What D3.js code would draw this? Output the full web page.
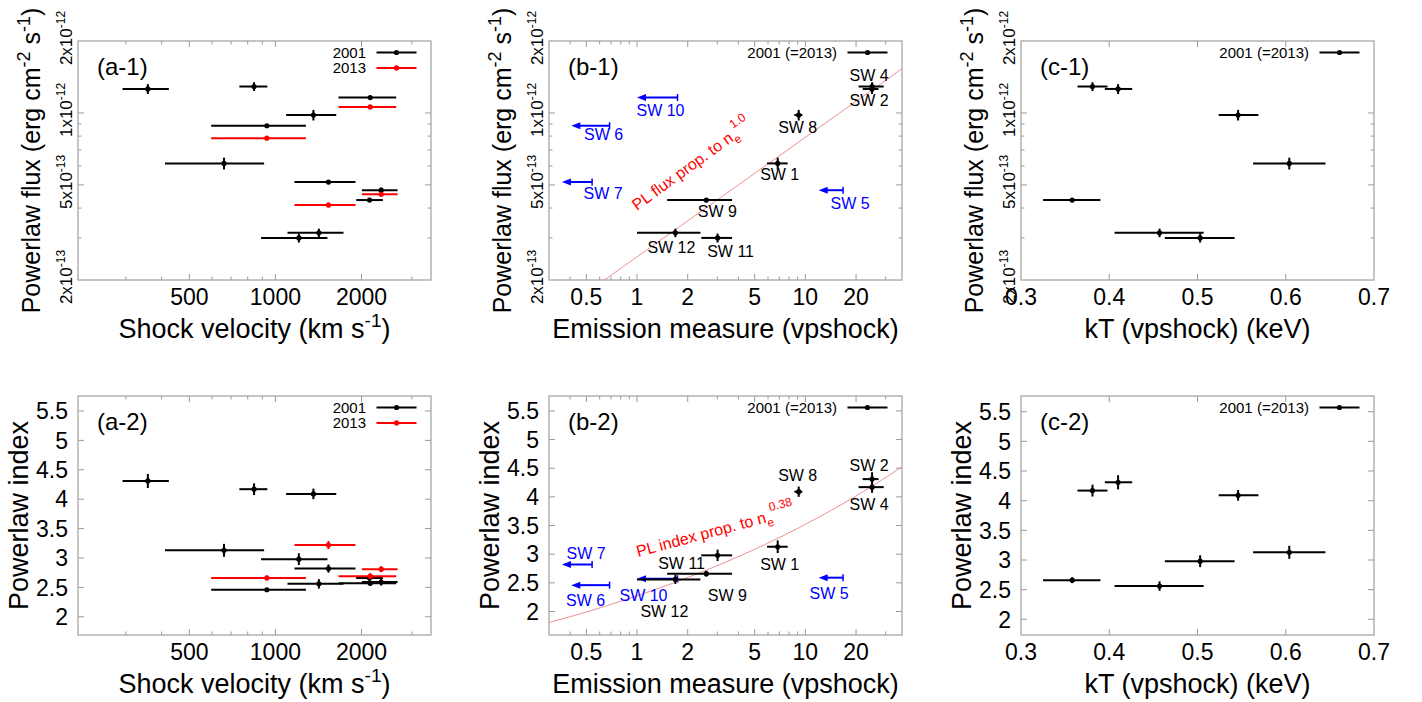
<!DOCTYPE html>
<html><head><meta charset="utf-8">
<script src="https://cdn.jsdelivr.net/npm/d3@7"></script>
<style>
body{margin:0;background:#fff}
svg{display:block}
text{font-family:"Liberation Sans",Arial,Helvetica,sans-serif;fill:#000}
</style>
</head><body>
<svg id="chart" width="1422" height="702"></svg>
<script>
// ---------------- data ----------------
const regions = ["SW 1","SW 2","SW 4","SW 5","SW 6","SW 7","SW 8","SW 9","SW 10","SW 11","SW 12"];
const shockVelocity     = [661, 358, 842, 2344, 933, 1533, 1358, 2133, 2145, 1208, 1419];
const shockVelocityLow  = [411, 292, 748, 2006, 596, 1166, 1090, 1916, 1662, 891, 1102];
const shockVelocityHigh = [913, 424, 937, 2674, 1278, 1905, 1632, 2376, 2645, 1520, 1730];
const flux2001    = [6.15e-13, 1.26e-12, 1.29e-12, 4.75e-13, 8.84e-13, 5.14e-13, 9.8e-13, 4.32e-13, 1.16e-12, 3.0e-13, 3.15e-13];
const flux2001Err = [0.35e-13, 0.6e-13, 0.55e-13, 0.12e-13, 0.1e-13, 0.1e-13, 0.5e-13, 0.08e-13, 0.15e-13, 0.13e-13, 0.13e-13];
const flux2013    = [null, null, null, 4.57e-13, 7.84e-13, 4.12e-13, null, null, 1.06e-12, null, null];
const flux2013Err = [null, null, null, 0.1e-13, 0.1e-13, 0.1e-13, null, null, 0.12e-13, null, null];
const index2001    = [3.13, 4.31, 4.17, 2.59, 2.46, 2.82, 4.09, 2.66, 2.57, 2.98, 2.56];
const index2001Err = [0.11, 0.12, 0.10, 0.06, 0.03, 0.07, 0.09, 0.05, 0.04, 0.10, 0.08];
const index2013    = [null, null, null, 2.81, 2.66, 3.22, null, null, 2.69, null, null];
const index2013Err = [null, null, null, 0.05, 0.04, 0.07, null, null, 0.05, null, null];
const emissionMeasure     = [6.85, 24.9, 24.9, 16.75, 0.687, 0.541, 9.13, 2.58, 1.74, 3.01, 1.69];
const emissionMeasureLow  = [5.92, 21.9, 20.7, null, null, null, 8.6, 1.51, null, 2.41, 1.0];
const emissionMeasureHigh = [7.85, 27.2, 29.2, null, null, null, 9.6, 3.67, null, 3.67, 2.38];
const emissionUpperLimit  = [false, false, false, true, true, true, false, false, true, false, false];
const emissionArrowTip    = [null, null, null, 12.0, 0.407, 0.358, null, null, 1.0, null, null];
const kT     = [0.604, 0.410, 0.381, null, null, null, 0.546, 0.358, null, 0.503, 0.457];
const kTLow  = [0.563, 0.395, 0.364, null, null, null, 0.524, 0.325, null, 0.463, 0.406];
const kTHigh = [0.645, 0.426, 0.398, null, null, null, 0.569, 0.390, null, 0.542, 0.507];
// fits: flux ∝ n_e^1.0 (EM^0.5), index ∝ n_e^0.38 (EM^0.19)
const fluxFitNorm = 2.5e-13, fluxFitExp = 0.5;
const indexFitNorm = 2.273, indexFitExp = 0.19;
// ticks
const velocityTicks = [500, 1000, 2000];
const velocityMinorTicks = [300, 400, 600, 700, 800, 900, 3000];
const emTicks = [0.5, 1, 2, 5, 10, 20];
const emMinorTicks = [0.4, 0.6, 0.7, 0.8, 0.9, 3, 4, 6, 7, 8, 9, 30];
const kTTicks = [0.3, 0.4, 0.5, 0.6, 0.7];
const fluxTicks = [2e-13, 5e-13, 1e-12, 2e-12];
const fluxTickMantissa = ["2x10", "5x10", "1x10", "2x10"];
const fluxTickExponent = ["-13", "-13", "-12", "-12"];
const fluxMinorTicks = [3e-13, 4e-13, 6e-13, 7e-13, 8e-13, 9e-13];
const indexTicks = [2, 2.5, 3, 3.5, 4, 4.5, 5, 5.5];
const legendLabels2 = ["2001", "2013"];
const legendLabel1 = "2001 (=2013)";

// ---------------- layout / style ----------------
const FRAME = "#a6a6a6", TICK = "#9a9a9a", RED = "#ff0000", BLUE = "#0000ff", FIT = "#f08a8a";
const boxes = {
  a1: {l: 78, t: 41, r: 431, b: 280}, b1: {l: 549, t: 41, r: 902, b: 280}, c1: {l: 1021, t: 41, r: 1374, b: 280},
  a2: {l: 78, t: 396, r: 431, b: 635}, b2: {l: 549, t: 396, r: 902, b: 635}, c2: {l: 1021, t: 396, r: 1374, b: 635}
};
const indexDomains = {a2: [1.69, 5.755], b2: [1.59, 5.76], c2: [1.736, 5.764]};
const labelPlacement = {
  b1: {"SW 1":[2,17],"SW 2":[-3,17],"SW 4":[-3,-6],"SW 8":[-1,18],"SW 9":[11,17],"SW 11":[13,19],"SW 12":[-4,20],
       "SW 10":[-17,18],"SW 6":[-6,14],"SW 7":[11,17],"SW 5":[7,19]},
  b2: {"SW 1":[2,23],"SW 2":[-3,-8],"SW 4":[-3,23],"SW 8":[-1,-11],"SW 9":[21,27],"SW 11":[-36,14],"SW 12":[-11,38],
       "SW 7":[-6,-6],"SW 6":[-24,21],"SW 10":[-34,22],"SW 5":[-14,21]}
};

const svg = d3.select("#chart");
const defs = svg.append("defs");
Object.entries(boxes).forEach(([k, bx]) => {
  defs.append("clipPath").attr("id", "clip-" + k).append("rect")
    .attr("x", bx.l).attr("y", bx.t).attr("width", bx.r - bx.l).attr("height", bx.b - bx.t);
});

function makeX(kind, bx) {
  if (kind === "a") return d3.scaleLog().domain([204, 3500]).range([bx.l, bx.r]);
  if (kind === "b") return d3.scaleLog().domain([0.3, 37.5]).range([bx.l, bx.r]);
  return d3.scaleLinear().domain([0.3, 0.7]).range([bx.l, bx.r]);
}
function makeY(row, key, bx) {
  if (row === 1) return d3.scaleLog().domain([2e-13, 2e-12]).range([bx.b, bx.t]);
  return d3.scaleLinear().domain(indexDomains[key]).range([bx.b, bx.t]);
}

function drawFrame(g, bx, x, y, kind, row) {
  const xt = kind === "a" ? velocityTicks : kind === "b" ? emTicks : kTTicks;
  const xm = kind === "a" ? velocityMinorTicks : kind === "b" ? emMinorTicks : [];
  const yt = row === 1 ? fluxTicks : indexTicks;
  const ym = row === 1 ? fluxMinorTicks : [];
  const tg = g.append("g").attr("stroke", TICK).attr("stroke-width", 1);
  const tick = (x1, y1, x2, y2) => tg.append("line").attr("x1", x1).attr("y1", y1).attr("x2", x2).attr("y2", y2);
  xt.forEach(v => { const px = x(v); if (px > bx.l + 1 && px < bx.r - 1) { tick(px, bx.b, px, bx.b - 6); tick(px, bx.t, px, bx.t + 6); } });
  xm.forEach(v => { const px = x(v); tick(px, bx.b, px, bx.b - 3.5); tick(px, bx.t, px, bx.t + 3.5); });
  yt.forEach(v => { const py = y(v); if (py > bx.t + 1 && py < bx.b - 1) { tick(bx.l, py, bx.l + 6, py); tick(bx.r, py, bx.r - 6, py); } });
  ym.forEach(v => { const py = y(v); tick(bx.l, py, bx.l + 3.5, py); tick(bx.r, py, bx.r - 3.5, py); });
  g.append("rect").attr("x", bx.l).attr("y", bx.t).attr("width", bx.r - bx.l).attr("height", bx.b - bx.t)
    .attr("fill", "none").attr("stroke", FRAME).attr("stroke-width", 1.3);
  // x tick labels
  xt.forEach(v => {
    g.append("text").attr("x", x(v)).attr("y", bx.b + 25).attr("text-anchor", "middle")
      .attr("font-size", 23).text(String(v));
  });
  // y tick labels
  if (row === 1) {
    yt.forEach((v, i) => {
      const t = g.append("text").attr("transform", `translate(${bx.l - 6},${y(v) - 3}) rotate(-90)`)
        .attr("text-anchor", "middle").attr("font-size", 17);
      t.append("tspan").text(fluxTickMantissa[i]);
      t.append("tspan").attr("dy", -7).attr("font-size", 12).text(fluxTickExponent[i]);
    });
  } else {
    yt.forEach(v => {
      g.append("text").attr("x", bx.l - 10).attr("y", y(v)).attr("dy", "0.36em").attr("text-anchor", "end")
        .attr("font-size", 23).text(String(v));
    });
  }
}

function xTitle(g, bx, kind) {
  const t = g.append("text").attr("x", (bx.l + bx.r) / 2).attr("y", bx.b + 58)
    .attr("text-anchor", "middle").attr("font-size", 27);
  if (kind === "a") {
    t.append("tspan").text("Shock velocity (km s");
    t.append("tspan").attr("dy", -11).attr("font-size", 19).text("-1");
    t.append("tspan").attr("dy", 11).text(")");
  } else if (kind === "b") t.text("Emission measure (vpshock)");
  else t.text("kT (vpshock) (keV)");
}
function yTitle(g, bx, row) {
  if (row === 1) {
    const t = g.append("text").attr("transform", `translate(${bx.l - 38},${(bx.t + bx.b) / 2}) rotate(-90)`)
      .attr("text-anchor", "middle").attr("font-size", 25);
    t.append("tspan").text("Powerlaw flux (erg cm");
    t.append("tspan").attr("dy", -10).attr("font-size", 18).text("-2");
    t.append("tspan").attr("dy", 10).text(" s");
    t.append("tspan").attr("dy", -10).attr("font-size", 18).text("-1");
    t.append("tspan").attr("dy", 10).text(")");
  } else {
    g.append("text").attr("transform", `translate(${bx.l - 50},${(bx.t + bx.b) / 2}) rotate(-90)`)
      .attr("text-anchor", "middle").attr("font-size", 27).text("Powerlaw index");
  }
}
function panelLabel(g, bx, s) {
  g.append("text").attr("x", bx.l + 19).attr("y", bx.t + 34).attr("font-size", 24).text(s);
}
function legend(g, bx, labels, colors) {
  labels.forEach((lab, i) => {
    const yy = bx.t + 11.5 + i * 15.4;
    g.append("text").attr("x", bx.r - 65).attr("y", yy + 5).attr("text-anchor", "end").attr("font-size", 15).text(lab);
    g.append("line").attr("x1", bx.r - 54.5).attr("x2", bx.r - 14.5).attr("y1", yy).attr("y2", yy)
      .attr("stroke", colors[i]).attr("stroke-width", 2);
    g.append("circle").attr("cx", bx.r - 34.5).attr("cy", yy).attr("r", 2.6).attr("fill", colors[i]);
  });
}
function errPoint(g, x, y, xv, x0, x1, yv, y0, y1, color) {
  const px = x(xv), py = y(yv);
  g.append("line").attr("x1", x(x0)).attr("x2", x(x1)).attr("y1", py).attr("y2", py).attr("stroke", color).attr("stroke-width", 2);
  if (y0 != null) g.append("line").attr("x1", px).attr("x2", px).attr("y1", y(y0)).attr("y2", y(y1)).attr("stroke", color).attr("stroke-width", 2);
  g.append("circle").attr("cx", px).attr("cy", py).attr("r", 2.6).attr("fill", color);
}
function limitArrow(g, x, y, xv, tip, yv, color) {
  const px = x(xv), pt = x(tip), py = y(yv);
  g.append("line").attr("x1", px).attr("x2", pt + 7).attr("y1", py).attr("y2", py).attr("stroke", color).attr("stroke-width", 2);
  g.append("line").attr("x1", px).attr("x2", px).attr("y1", py - 3.5).attr("y2", py + 3.5).attr("stroke", color).attr("stroke-width", 1.5);
  g.append("path").attr("d", `M${pt},${py} L${pt + 9},${py - 3.5} L${pt + 9},${py + 3.5} Z`).attr("fill", color);
}

const rowsData = {
  1: {v: flux2001, e: flux2001Err, v13: flux2013, e13: flux2013Err},
  2: {v: index2001, e: index2001Err, v13: index2013, e13: index2013Err}
};

["a", "b", "c"].forEach(kind => {
  [1, 2].forEach(row => {
    const key = kind + row;
    const bx = boxes[key];
    const x = makeX(kind, bx), y = makeY(row, key, bx);
    const g = svg.append("g");
    drawFrame(g, bx, x, y, kind, row);
    xTitle(g, bx, kind);
    yTitle(g, bx, row);
    panelLabel(g, bx, `(${kind}-${row})`);
    const d = rowsData[row];
    const pg = g.append("g").attr("clip-path", `url(#clip-${key})`);
    if (kind === "a") {
      regions.forEach((r, i) => errPoint(pg, x, y, shockVelocity[i], shockVelocityLow[i], shockVelocityHigh[i],
        d.v[i], d.v[i] - d.e[i], d.v[i] + d.e[i], "#000"));
      regions.forEach((r, i) => { if (d.v13[i] != null) errPoint(pg, x, y, shockVelocity[i], shockVelocityLow[i], shockVelocityHigh[i],
        d.v13[i], d.v13[i] - d.e13[i], d.v13[i] + d.e13[i], RED); });
      legend(g, bx, legendLabels2, ["#000", RED]);
    } else if (kind === "b") {
      // fit curve
      const ems = d3.range(0, 201).map(k => 0.3 * Math.pow(37.5 / 0.3, k / 200));
      const fit = row === 1 ? (e => fluxFitNorm * Math.pow(e, fluxFitExp)) : (e => indexFitNorm * Math.pow(e, indexFitExp));
      pg.append("path").attr("d", d3.line().x(e => x(e)).y(e => y(Math.max(fit(e), row === 1 ? 1e-13 : 0)))(ems))
        .attr("fill", "none").attr("stroke", FIT).attr("stroke-width", 1);
      regions.forEach((r, i) => {
        const off = labelPlacement[key][r];
        if (emissionUpperLimit[i]) {
          limitArrow(pg, x, y, emissionMeasure[i], emissionArrowTip[i], d.v[i], BLUE);
          g.append("text").attr("x", x(emissionMeasure[i]) + off[0]).attr("y", y(d.v[i]) + off[1])
            .attr("text-anchor", "middle").attr("font-size", 16).style("fill", BLUE).text(r);
        } else {
          errPoint(pg, x, y, emissionMeasure[i], emissionMeasureLow[i], emissionMeasureHigh[i],
            d.v[i], d.v[i] - d.e[i], d.v[i] + d.e[i], "#000");
          g.append("text").attr("x", x(emissionMeasure[i]) + off[0]).attr("y", y(d.v[i]) + off[1])
            .attr("text-anchor", "middle").attr("font-size", 16).text(r);
        }
      });
      // fit annotation
      if (row === 1) {
        const t = g.append("text").attr("transform", "translate(637,211) rotate(-36)").attr("font-size", 16).style("fill", RED);
        t.append("tspan").text("PL flux prop. to n");
        t.append("tspan").attr("dy", 5).attr("font-size", 12).text("e");
        t.append("tspan").attr("dy", -15).attr("dx", -1).attr("font-size", 12).text("1.0");
      } else {
        const t = g.append("text").attr("transform", "translate(638,557) rotate(-15)").attr("font-size", 16).style("fill", RED);
        t.append("tspan").text("PL index prop. to n");
        t.append("tspan").attr("dy", 5).attr("font-size", 12).text("e");
        t.append("tspan").attr("dy", -15).attr("dx", -1).attr("font-size", 12).text("0.38");
      }
      legend(g, bx, [legendLabel1], ["#000"]);
    } else {
      regions.forEach((r, i) => { if (kT[i] != null) errPoint(pg, x, y, kT[i], kTLow[i], kTHigh[i],
        d.v[i], d.v[i] - d.e[i], d.v[i] + d.e[i], "#000"); });
      legend(g, bx, [legendLabel1], ["#000"]);
    }
  });
});
</script>
</body></html>
